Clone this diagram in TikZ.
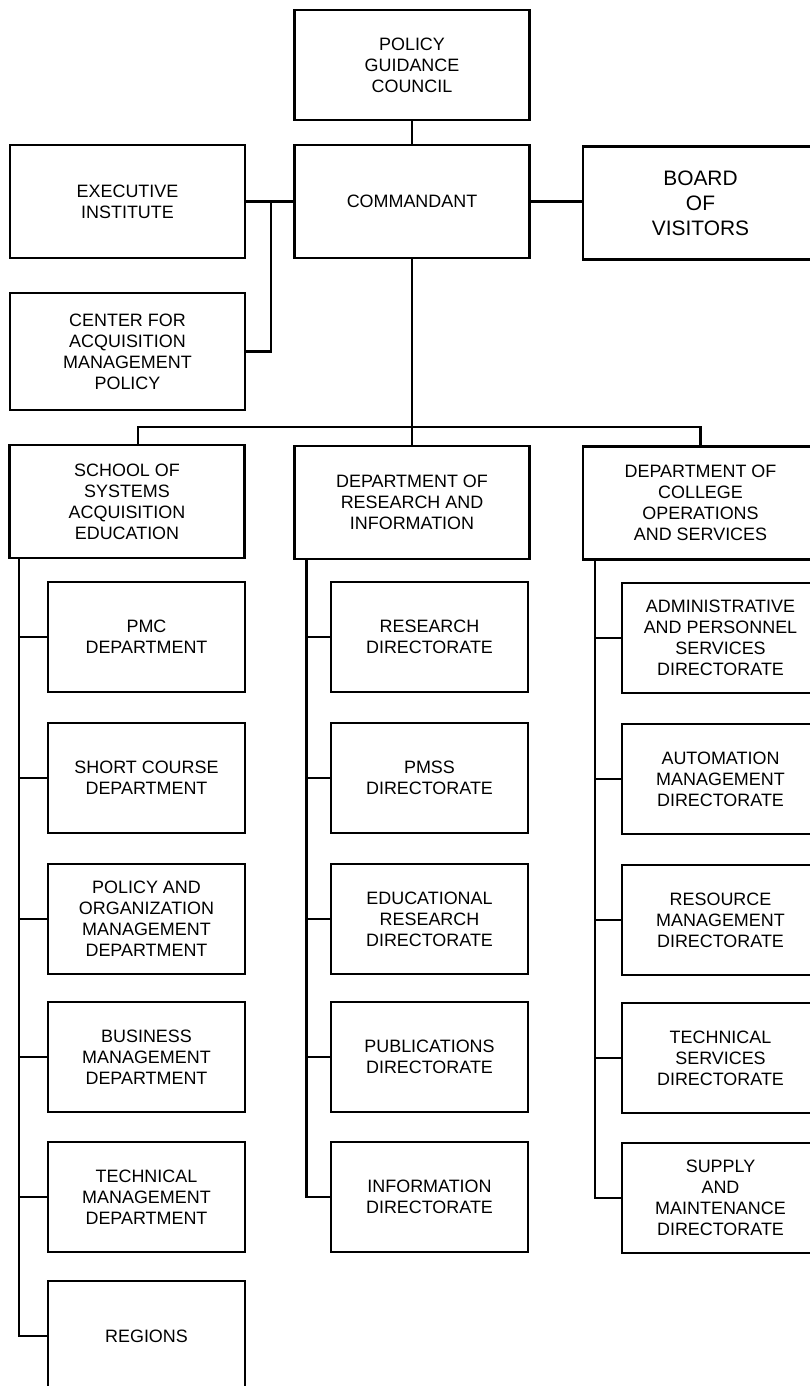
\documentclass[tikz,border=0pt]{standalone}
\usepackage{fontspec}
\setmainfont{Liberation Sans}
\begin{document}
\begin{tikzpicture}[x=1bp,y=-1bp,
    box/.style={draw=black,line width=2.2bp,align=center,inner sep=0pt,
        font=\fontsize{18}{21}\selectfont,minimum width=235bp,minimum height=113bp},
    kid/.style={box,minimum width=197bp,minimum height=110bp},
    link/.style={draw=black,line width=2.2bp}]
    \useasboundingbox (0,0) rectangle (809,1386);

    \node[box,minimum height=110bp] (pgc) at (412,65) {POLICY\\GUIDANCE\\COUNCIL};
    \node[box] (cmd) at (412,201.5) {COMMANDANT};
    \node[box] (exec) at (127.5,201.5) {EXECUTIVE\\INSTITUTE};
    \node[box,font=\fontsize{21}{25}\selectfont] (board) at (700.5,203) {BOARD\\OF\\VISITORS};
    \node[box,minimum height=117bp] (cam) at (127.5,351.5) {CENTER FOR\\ACQUISITION\\MANAGEMENT\\POLICY};

    \node[box] (school) at (127,501.5) {SCHOOL OF\\SYSTEMS\\ACQUISITION\\EDUCATION};
    \node[box] (ri) at (412,502.5) {DEPARTMENT OF\\RESEARCH AND\\INFORMATION};
    \node[box] (cos) at (700.5,503) {DEPARTMENT OF\\COLLEGE\\OPERATIONS\\AND SERVICES};

    \node[kid] (pmc) at (146.5,637) {PMC\\DEPARTMENT};
    \node[kid] (short) at (146.5,778) {SHORT COURSE\\DEPARTMENT};
    \node[kid] (pom) at (146.5,919) {POLICY AND\\ORGANIZATION\\MANAGEMENT\\DEPARTMENT};
    \node[kid] (bus) at (146.5,1057) {BUSINESS\\MANAGEMENT\\DEPARTMENT};
    \node[kid] (tech) at (146.5,1197) {TECHNICAL\\MANAGEMENT\\DEPARTMENT};
    \node[kid] (reg) at (146.5,1336) {REGIONS};

    \node[kid] (resdir) at (429.5,637) {RESEARCH\\DIRECTORATE};
    \node[kid] (pmss) at (429.5,778) {PMSS\\DIRECTORATE};
    \node[kid] (edu) at (429.5,919) {EDUCATIONAL\\RESEARCH\\DIRECTORATE};
    \node[kid] (pub) at (429.5,1057) {PUBLICATIONS\\DIRECTORATE};
    \node[kid] (info) at (429.5,1197) {INFORMATION\\DIRECTORATE};

    \node[kid] (adm) at (720.5,638) {ADMINISTRATIVE\\AND PERSONNEL\\SERVICES\\DIRECTORATE};
    \node[kid] (auto) at (720.5,779) {AUTOMATION\\MANAGEMENT\\DIRECTORATE};
    \node[kid] (rm) at (720.5,920) {RESOURCE\\MANAGEMENT\\DIRECTORATE};
    \node[kid] (ts) at (720.5,1058) {TECHNICAL\\SERVICES\\DIRECTORATE};
    \node[kid] (sm) at (720.5,1198) {SUPPLY\\AND\\MAINTENANCE\\DIRECTORATE};

    \coordinate (jn) at (271,201.5);
    \coordinate (top) at (412,427);
    \coordinate (s1) at ([xshift=11bp]school.south west);
    \coordinate (s2) at ([xshift=13bp]ri.south west);
    \coordinate (s3) at ([xshift=13bp]cos.south west);

    \draw[link] (pgc) -- (cmd);
    \draw[link] (exec) -- (cmd);
    \draw[link] (cmd.east) -- (cmd.east -| board.west);
    \draw[link] (cam.east) -| (jn);
    \draw[link] (cmd) -- (ri);
    \draw[link] ([xshift=11bp]school.north) |- (top) -| (cos.north);

    \draw[link] (s1) |- (pmc.west);
    \draw[link] (s1) |- (short.west);
    \draw[link] (s1) |- (pom.west);
    \draw[link] (s1) |- (bus.west);
    \draw[link] (s1) |- (tech.west);
    \draw[link] (s1) |- (reg.west);

    \draw[link] (s2) |- (resdir.west);
    \draw[link] (s2) |- (pmss.west);
    \draw[link] (s2) |- (edu.west);
    \draw[link] (s2) |- (pub.west);
    \draw[link] (s2) |- (info.west);

    \draw[link] (s3) |- (adm.west);
    \draw[link] (s3) |- (auto.west);
    \draw[link] (s3) |- (rm.west);
    \draw[link] (s3) |- (ts.west);
    \draw[link] (s3) |- (sm.west);
\end{tikzpicture}
\end{document}
